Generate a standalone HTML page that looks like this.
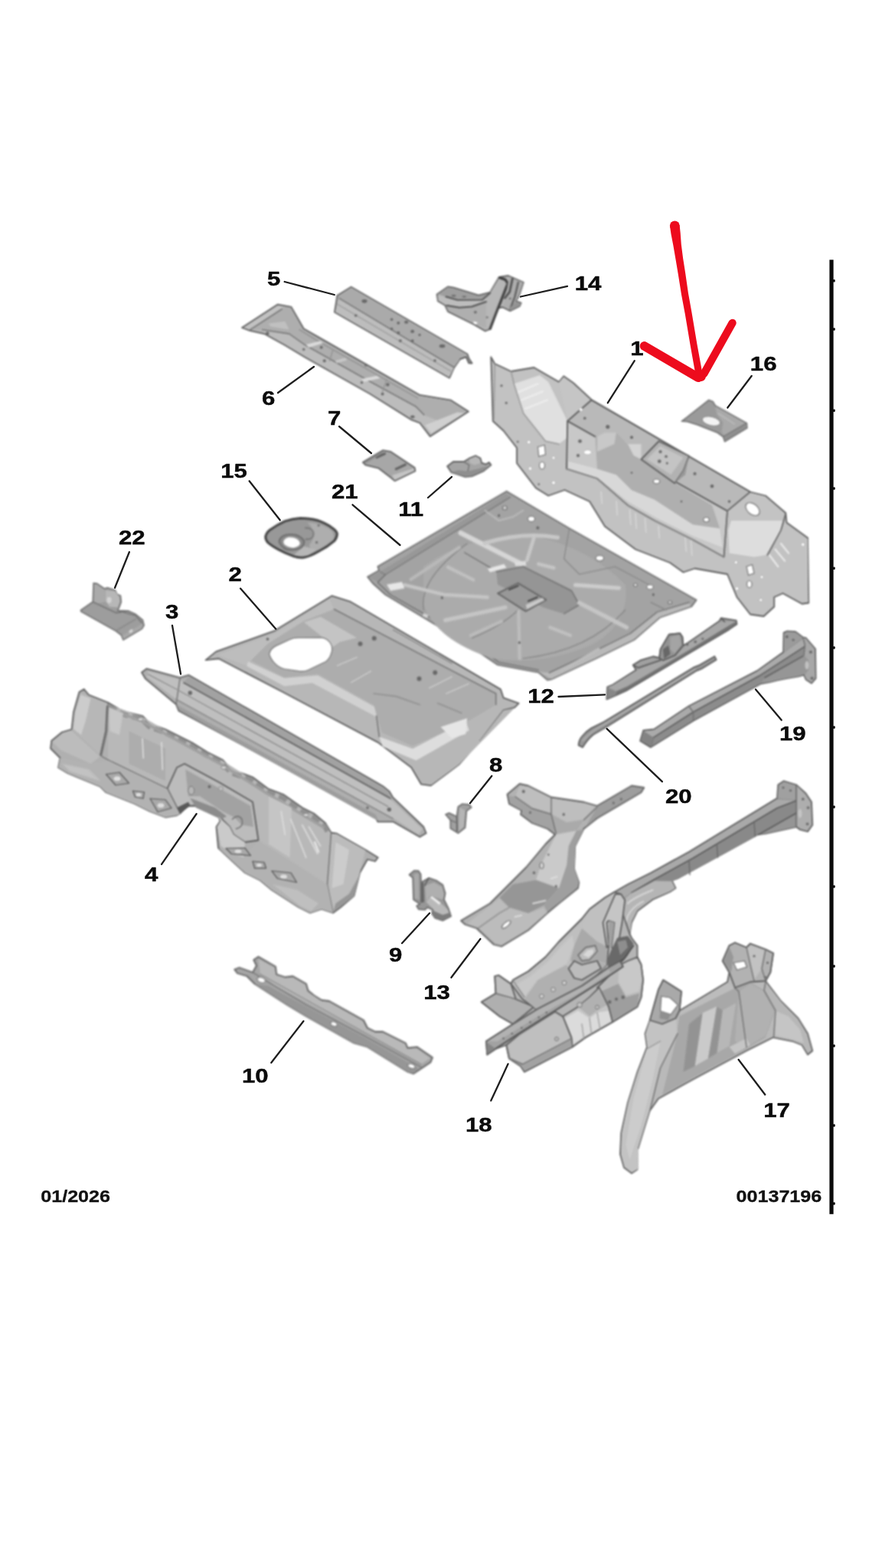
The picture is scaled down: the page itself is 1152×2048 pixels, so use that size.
<!DOCTYPE html>
<html><head><meta charset="utf-8"><title>Parts diagram</title>
<style>
html,body{margin:0;padding:0;background:#fff;}
body{width:1152px;height:2048px;overflow:hidden;font-family:"Liberation Sans",sans-serif;}
svg{display:block;position:absolute;left:0;top:0;}
.p{fill:#c2c2c2;stroke:#747474;stroke-width:1.8;stroke-linejoin:round;vector-effect:non-scaling-stroke;}
.l{fill:#d4d4d4;stroke:none;}
.ll{fill:#e2e2e2;stroke:none;}
.d{fill:#adadad;stroke:none;}
.dd{fill:#9a9a9a;stroke:none;}
.e{fill:none;stroke:#858585;stroke-width:1.4;vector-effect:non-scaling-stroke;stroke-linecap:round;stroke-linejoin:round;}
.ed{fill:none;stroke:#6f6f6f;stroke-width:1.5;vector-effect:non-scaling-stroke;stroke-linecap:round;stroke-linejoin:round;}
.h{fill:none;stroke:#e6e6e6;stroke-width:2.2;vector-effect:non-scaling-stroke;stroke-linecap:round;}
.w{fill:#fff;stroke:#8c8c8c;stroke-width:1.2;vector-effect:non-scaling-stroke;}
.k{fill:#7d7d7d;stroke:none;}
.ld{stroke:#1e1e1e;stroke-width:2.3;stroke-linecap:round;fill:none;}
.t{font-family:"Liberation Sans",sans-serif;font-weight:700;font-size:26px;fill:#0b0b0b;stroke:#0b0b0b;stroke-width:0.45;stroke-linejoin:round;}
.f{font-family:"Liberation Sans",sans-serif;font-weight:700;font-size:21.5px;fill:#111;stroke:#111;stroke-width:0.3;}
</style></head><body>
<svg width="1152" height="2048" viewBox="0 0 1152 2048">
<defs>
<filter id="soft" x="-2%" y="-2%" width="104%" height="104%" color-interpolation-filters="sRGB"><feGaussianBlur stdDeviation="1.0"/><feComponentTransfer><feFuncR type="gamma" exponent="1.25"/><feFuncG type="gamma" exponent="1.25"/><feFuncB type="gamma" exponent="1.25"/></feComponentTransfer></filter>
<filter id="soft2" x="-5%" y="-5%" width="110%" height="110%" color-interpolation-filters="sRGB"><feGaussianBlur stdDeviation="0.6"/></filter>
</defs>
<rect x="0" y="0" width="1152" height="2048" fill="#ffffff"/>
<g filter="url(#soft)">
<!-- 01.svg -->
<g transform="translate(630,440) scale(0.25)">
<path class="p" style="fill:#cdcdcd" d="M45,105 L65,140 L150,180 L270,160 L330,195 L400,235 L425,205 L475,240 L570,328 L1400,810 L1480,830 L1585,920 L1590,970 L1700,1050 L1705,1390 L1670,1395 L1570,1340 L1525,1360 L1525,1410 L1470,1460 L1400,1450 L1330,1360 L1280,1240 L1110,1210 L1050,1230 L980,1180 L800,1110 L680,1020 L640,990 L560,860 L430,800 L345,830 L280,790 L180,660 L180,580 L110,490 L55,440 Z"/>
<!-- left light area -->
<path class="ll" style="fill:#e6e6e6" d="M165,245 L300,200 L345,235 L440,430 L440,530 L400,560 L330,545 L215,400 Z"/>
<path class="l" style="fill:#d0d0d0" d="M400,238 L425,210 L472,244 L566,330 L445,438 Z"/>
<path class="h" d="M185,290 L290,245 M205,330 L315,285 M225,375 L340,330" style="stroke:#f0f0f0;stroke-width:2.5"/>
<polyline class="e" points="150,180 165,245 215,400 330,545 400,560" style="stroke:#a8a8a8"/>
<polyline class="e" points="65,140 60,430" style="stroke:#a5a5a5"/>
<!-- box -->
<path style="fill:#c6c6c6" class="p" d="M445,440 L570,330 L1400,810 L1280,910 Z"/>
<path style="fill:#d2d2d2" class="p" d="M445,440 L1280,910 L1262,1150 L1100,1060 L900,960 L760,880 L600,740 L440,690 Z"/>
<path class="d" style="fill:#bdbdbd" d="M590,520 L700,500 L830,640 L1000,760 L1200,880 L1240,1000 L1100,980 L900,850 L780,800 L700,720 L600,690 Z"/>
<path class="ll" style="fill:#e0e0e0" d="M600,690 L700,722 L780,802 L900,852 L1100,982 L1240,1002 L1255,1100 L1100,1040 L900,940 L760,860 L600,735 L450,685 L450,650 Z"/>
<path class="l" style="fill:#d2d2d2" d="M600,520 L640,500 L700,500 L690,560 L600,600 Z"/>
<path class="ll" style="fill:#dcdcdc" d="M760,560 L830,560 L830,640 L790,620 Z"/>
<!-- bracket on box -->
<path class="p" style="fill:#c0c0c0" d="M830,640 L922,545 L1080,622 L1050,700 L1005,765 Z"/>
<path class="l" style="fill:#cfcfcf" d="M860,640 L930,570 L1050,630 L985,720 Z"/>
<path class="d" style="fill:#a9a9a9" d="M1005,765 L1050,700 L1080,622 L1060,720 Z"/>
<g class="k"><circle cx="930" cy="600" r="8"/><circle cx="960" cy="625" r="7"/><circle cx="925" cy="650" r="9"/><circle cx="965" cy="660" r="6"/></g>
<!-- right end -->
<path class="ll" style="fill:#e4e4e4" d="M1285,1010 L1300,960 L1480,960 L1570,960 L1560,1010 L1480,1140 L1420,1150 L1290,1130 Z"/>
<path class="l" style="fill:#cecece" d="M1282,912 L1400,814 L1478,834 L1580,922 L1570,958 L1300,958 Z"/>
<polyline class="e" points="1280,910 1262,1150"/>
<polyline class="ed" points="1585,925 1560,1010 1490,1140"/>
<ellipse class="w" cx="1412" cy="900" rx="42" ry="27" transform="rotate(40 1412 900)"/>
<path class="h" d="M1560,1080 L1600,1130 M1530,1110 L1580,1170 M1500,1140 L1545,1200" style="stroke:#ededed;stroke-width:2.5"/>
<path class="l" style="fill:#cdcdcd" d="M1640,1060 L1700,1055 L1702,1385 L1660,1380 Z"/>
<path class="w" d="M1380,1200 L1410,1190 L1420,1235 L1390,1245 Z"/>
<ellipse class="w" cx="1395" cy="1292" rx="13" ry="18"/>
<g class="w"><circle cx="1325" cy="1178" r="8"/><circle cx="1330" cy="1315" r="9"/><circle cx="1460" cy="1255" r="8"/><circle cx="1455" cy="1375" r="8"/><circle cx="1675" cy="1085" r="9"/></g>
<!-- left holes -->
<path class="w" d="M290,575 L325,565 L330,615 L295,625 Z"/>
<ellipse class="w" cx="312" cy="672" rx="14" ry="19"/>
<g class="w"><circle cx="243" cy="550" r="9"/><circle cx="250" cy="688" r="9"/><circle cx="372" cy="632" r="8"/><circle cx="372" cy="762" r="9"/><ellipse cx="550" cy="603" rx="20" ry="12"/><circle cx="515" cy="380" r="9"/></g>
<g class="k"><circle cx="100" cy="255" r="6"/><circle cx="125" cy="345" r="6"/><circle cx="185" cy="548" r="5"/><circle cx="295" cy="770" r="5"/><circle cx="510" cy="545" r="9"/><circle cx="500" cy="620" r="8"/><circle cx="535" cy="425" r="7"/><circle cx="655" cy="470" r="10"/><circle cx="780" cy="525" r="8"/><circle cx="1110" cy="715" r="8"/><circle cx="1200" cy="780" r="9"/><circle cx="1290" cy="860" r="7"/><circle cx="780" cy="710" r="5"/><circle cx="1040" cy="860" r="5"/></g>
<ellipse class="w" cx="910" cy="755" rx="17" ry="12"/>
<ellipse class="w" cx="1170" cy="955" rx="15" ry="12"/>
<!-- ribs -->
<path class="h" style="stroke:#dcdcdc;stroke-width:2" d="M620,810 L625,870 M700,860 L705,930 M770,905 L775,980 M800,925 L805,1000 M850,950 L855,1020 M920,990 L925,1050 M1060,1050 L1065,1120 M1090,1065 L1095,1140"/>
<polyline class="e" points="440,690 600,740 760,880 900,960 1100,1060 1262,1150" style="stroke:#9d9d9d"/>
</g>
<!-- 02.svg -->
<g transform="translate(262,760) scale(0.364583)">
<path class="p" style="fill:#c4c4c4" d="M18,280 L55,250 L265,175 L470,50 L535,70 L1075,385 L1085,415 L1140,435 L1125,450 L1085,460 L1005,565 L925,655 L825,730 L790,725 L755,665 L635,575 L295,395 L65,275 Z"/>
<path class="d" style="fill:#bbbbbb" d="M240,222 L370,140 L478,98 L1058,400 L1058,440 L960,498 L760,588 L650,540 L622,442 L420,330 L300,342 L180,282 Z"/>
<path class="l" style="fill:#c9c9c9" d="M60,262 L265,185 L462,62 L478,98 L370,140 L240,222 L180,282 L165,300 Z"/>
<path class="ll" style="fill:#dadada" d="M170,285 L300,345 L420,335 L622,447 L632,485 L400,362 L300,374 L165,302 Z"/>
<path class="ll" style="fill:#e4e4e4" d="M640,555 L760,598 L950,498 L962,532 L772,640 L652,590 Z"/>
<path class="ll" style="fill:#ebebeb" d="M860,520 L955,488 L950,545 L900,560 Z"/>
<path class="l" style="fill:#cfcfcf" d="M370,145 L430,125 L560,200 L500,215 L470,235 L440,200 Z"/>
<path class="l" style="fill:#c4c4c4" d="M1000,570 L1085,460 L1125,452 L925,655 L828,726 L795,720 L770,650 L960,545 Z"/>
<path class="e" d="M478,98 L1058,400 L1058,440"/>
<path class="e" style="stroke:#9e9e9e" d="M690,172 L900,292 M620,400 L700,410 L785,440 M850,435 L935,470"/>
<path class="e" style="stroke:#d0d0d0;stroke-width:2" d="M490,300 L560,270 M540,360 L610,320 M820,380 L900,340 M880,400 L960,365"/>
<path class="e" d="M630,480 L640,555"/>
<path class="w" style="fill:#ffffff" d="M246,258 Q250,240 268,230 L318,207 Q332,200 350,200 L428,199 Q452,200 464,218 Q476,236 468,256 Q462,276 448,286 L385,316 Q372,322 352,320 L300,312 Q282,308 268,294 Q250,276 246,258 Z"/>
<g class="k"><circle cx="572" cy="222" r="8"/><circle cx="622" cy="202" r="8"/><circle cx="783" cy="347" r="8"/><circle cx="840" cy="325" r="8"/><circle cx="240" cy="205" r="5"/></g>
</g>
<!-- 03.svg -->
<g transform="translate(180,860) scale(0.333333)">
<path class="p" style="fill:#bcbcbc" d="M15,55 L35,40 L165,75 L200,65 L960,500 L985,520 L1000,545 L1120,660 L1130,685 L1105,700 L1000,640 L940,640 L930,620 L160,205 L150,180 L30,80 Z"/>
<path class="l" style="fill:#cbcbcb" d="M40,50 L165,84 L1000,560 L1115,668 L1100,690 L1000,625 L150,160 L35,72 Z"/>
<path class="d" style="fill:#b2b2b2" d="M200,70 L958,504 L982,524 L990,545 L180,95 Z"/>
<path class="d" style="fill:#adadad" d="M152,182 L932,612 L940,636 L162,204 Z"/>
<path class="ed" style="stroke:#7a7a7a;stroke-width:1.8" d="M180,95 L990,548"/><path class="e" d="M165,80 L150,180"/>
<path class="e" style="stroke:#999" d="M150,160 L1000,628"/>
<path class="e" style="stroke:#a0a0a0" d="M40,62 L150,120 L980,580"/>
<circle class="k" cx="205" cy="135" r="8"/><circle class="k" cx="985" cy="592" r="8"/><circle class="k" cx="900" cy="585" r="5"/>
</g>
<!-- 04.svg -->
<g transform="translate(56,880) scale(0.25)">
<path class="p" style="fill:#bebebe" d="M190,95 L215,80 L240,110 L340,150 L400,185 L440,200 L520,220 L560,260 L640,290 L720,330 L780,360 L860,410 L940,450 L986,500 L1096,540 L1176,600 L1256,630 L1356,700 L1416,730 L1476,780 L1506,830 L1536,835 L1686,920 L1751,960 L1736,980 L1696,970 L1656,1040 L1626,1160 L1556,1220 L1516,1250 L1456,1230 L1396,1250 L1336,1220 L1196,1130 L1136,1080 L1056,1040 L996,985 L916,910 L906,800 L926,770 L916,740 L796,690 L756,690 L716,730 L700,740 L640,750 L560,720 L480,680 L330,620 L300,590 L130,520 L80,490 L90,440 L40,390 L45,350 L100,305 L150,290 L160,200 Z"/>
<!-- left cap -->
<path class="l" style="fill:#c4c4c4" d="M165,200 L195,100 L340,155 L335,300 L305,430 L155,290 Z"/>
<path class="ll" style="fill:#d6d6d6" d="M170,200 L198,110 L250,130 L225,240 L200,320 L160,288 Z"/>
<path class="l" style="fill:#c8c8c8" d="M48,355 L100,312 L150,296 L300,432 L250,470 L95,400 Z"/>
<!-- main wall -->
<path class="l" style="fill:#c5c5c5" d="M340,160 L520,225 L700,330 L940,455 L1176,605 L1476,785 L1506,835 L1486,1100 L1126,870 L1100,700 L1060,650 L740,470 L700,490 L650,600 L340,450 Z"/>
<path d="M345,158 L400,188 L440,203 L520,224 L560,263 L640,293 L720,333 L780,363 L860,413 L940,453 L986,503 L1096,543 L1176,603 L1256,633 L1356,703 L1416,733 L1476,783 L1500,826" fill="none" stroke="#a2a2a2" stroke-width="26" stroke-dasharray="46 22" stroke-linecap="butt" transform="translate(-4,14)"/>
<path d="M345,158 L520,224 L940,453 L1176,603 L1476,783" fill="none" stroke="#b0b0b0" stroke-width="14" transform="translate(-6,22)"/>
<path class="ll" style="fill:#d2d2d2" d="M345,175 L420,205 L400,320 L350,300 Z"/>
<path class="ll" style="fill:#d0d0d0" d="M1180,640 L1300,700 L1290,960 L1180,890 Z"/>
<path class="l" style="fill:#bbbbbb" d="M450,300 L640,390 L640,560 L450,470 Z"/>
<path class="h" style="stroke:#e2e2e2;stroke-width:1.8" d="M1245,720 L1265,840 M1295,760 L1375,960 M1355,790 L1435,940 M1390,800 L1450,900 M620,360 L625,500 M520,340 L525,440"/>
<path class="h" style="stroke:#ececec;stroke-width:2.4" d="M1420,880 L1440,930 M1180,920 L1186,935 M350,455 L358,460"/>
<path class="e" d="M340,155 L335,300 L305,430 L340,450 L650,600"/>
<path class="ed" style="stroke:#777" d="M335,170 L328,300 L300,425"/>
<!-- tunnel bridge -->
<path class="p" style="fill:#c8c8c8" d="M650,600 L700,490 L740,470 L926,570 L1096,670 L1126,870 L1056,880 L996,840 L976,800 L916,740 L796,690 L756,690 L716,730 Z"/>
<path class="d" style="fill:#b2b2b2" d="M745,500 L1085,690 L1100,800 L1040,790 L1000,750 L940,720 L820,640 L760,640 Z"/>
<path class="d" style="fill:#9e9e9e" d="M770,650 L900,700 L960,745 L930,760 L800,700 Z"/>
<path class="l" style="fill:#d4d4d4" d="M916,745 L976,800 L996,840 L1056,880 L1050,960 L990,940 L930,900 L910,800 L928,770 Z"/>
<path class="e" d="M990,760 q30,-30 50,0 q10,40 -30,50"/>
<ellipse cx="775" cy="610" rx="16" ry="22" fill="#c4c4c4" stroke="#8a8a8a" stroke-width="4"/>
<circle cx="870" cy="590" r="8" class="k"/><circle cx="930" cy="600" r="12" fill="#c9c9c9" stroke="#999" stroke-width="3"/>
<path class="dd" style="fill:#6d6d6d" d="M700,700 L760,670 L770,690 L716,730 Z"/>
<!-- right cap -->
<path class="l" style="fill:#c8c8c8" d="M1506,835 L1536,838 L1686,922 L1656,1040 L1626,1160 L1516,1245 L1486,1100 Z"/>
<path class="ll" style="fill:#d6d6d6" d="M1530,880 L1600,920 L1570,1100 L1510,1120 Z"/>
<path class="d" style="fill:#a8a8a8" d="M1516,1248 L1626,1162 L1650,1060 L1600,1150 L1530,1200 Z"/>
<path class="e" d="M1506,835 L1486,1100 L1516,1248"/>
<!-- floor flanges -->
<path class="d" style="fill:#c0c0c0" d="M90,440 L250,470 L340,452 L650,602 L716,732 L700,740 L640,750 L560,720 L480,680 L330,620 L300,590 L130,520 L80,490 Z"/>
<path class="d" style="fill:#c0c0c0" d="M916,910 L1050,962 L1126,872 L1486,1102 L1516,1250 L1456,1230 L1396,1250 L1336,1220 L1196,1130 L1136,1080 L1056,1040 L996,985 Z"/>
<path class="l" style="fill:#cdcdcd" d="M100,470 L240,500 L300,560 L140,510 Z"/>
<path class="l" style="fill:#cbcbcb" d="M1200,1100 L1330,1130 L1440,1200 L1400,1240 L1340,1210 Z"/>
<!-- bolt plates -->
<g fill="#b8b8b8" stroke="#6e6e6e" stroke-width="5" stroke-linejoin="round">
<path d="M330,525 L400,515 L450,572 L380,582 Z"/><path d="M470,612 L530,618 L524,652 L482,644 Z"/><path d="M560,652 L640,658 L672,702 L600,722 Z"/>
<path d="M956,912 L1056,910 L1086,950 L986,942 Z"/><path d="M1096,980 L1156,985 L1166,1016 L1106,1016 Z"/><path d="M1196,1030 L1296,1040 L1326,1090 L1226,1070 Z"/>
</g>
<g fill="#e6e6e6"><ellipse cx="388" cy="548" rx="18" ry="12"/><ellipse cx="500" cy="632" rx="14" ry="10"/><ellipse cx="616" cy="688" rx="18" ry="12"/><ellipse cx="1020" cy="928" rx="18" ry="10"/><ellipse cx="1130" cy="1000" rx="14" ry="9"/><ellipse cx="1258" cy="1060" rx="18" ry="11"/></g>
<ellipse cx="510" cy="238" rx="14" ry="9" fill="#ddd" stroke="#8c8c8c" stroke-width="3"/>
<ellipse cx="945" cy="490" rx="14" ry="9" fill="#ddd" stroke="#8c8c8c" stroke-width="3"/>
<ellipse cx="1375" cy="738" rx="14" ry="9" fill="#ddd" stroke="#8c8c8c" stroke-width="3"/>
</g>
<!-- 05.svg -->
<g transform="translate(430,360) scale(0.173611)">
<polygon class="p" points="60,150 165,85 1040,590 1052,625 1075,660 1050,658 1030,612 985,628 940,692 905,770 40,275"/>
<polygon class="d" points="68,152 165,90 1036,592 985,626 940,688 80,178" style="fill:#b9b9b9"/>
<polygon class="l" points="78,182 938,694 903,764 44,272" style="fill:#c9c9c9"/>
<polyline class="e" points="75,170 940,690"/>
<polyline class="e" points="62,215 925,725" style="stroke:#b0b0b0"/>
<polyline class="ed" points="985,628 1030,612 1050,658"/>
<g class="k"><ellipse cx="265" cy="192" rx="20" ry="14"/><ellipse cx="200" cy="300" rx="11" ry="9"/><circle cx="470" cy="330" r="10"/><circle cx="520" cy="356" r="11"/><ellipse cx="580" cy="350" rx="15" ry="12"/><circle cx="470" cy="400" r="10"/><circle cx="520" cy="430" r="11"/><ellipse cx="626" cy="420" rx="14" ry="12"/><circle cx="680" cy="446" r="9"/><circle cx="535" cy="490" r="11"/><circle cx="626" cy="490" r="11"/><ellipse cx="850" cy="530" rx="22" ry="13"/><circle cx="795" cy="640" r="10"/></g>
</g>
<!-- 06.svg -->
<g transform="translate(310,390) scale(0.270833)">
<polygon class="p" points="22,140 195,28 260,40 320,145 390,185 600,305 880,465 1030,490 1115,545 930,665 880,600 840,585 640,460 330,285 230,225 130,170 60,155"/>
<polygon class="l" points="30,140 195,34 225,40 62,150" style="fill:#cdcdcd"/>
<polygon class="d" points="225,42 258,44 316,148 388,190 875,468 1026,494 1100,542 1000,600 900,560 860,520 640,400 330,225 250,170 120,150 70,150" style="fill:#bcbcbc"/>
<polygon class="l" points="120,152 250,172 330,228 640,402 860,522 900,562 1000,602 932,655 884,596 842,580 640,456 330,281 230,221 132,166" style="fill:#c8c8c8"/>
<polyline class="e" points="62,150 215,50"/>
<polyline class="e" points="120,150 250,170 330,226 640,400 860,520 900,560"/>
<polyline class="e" points="300,150 380,200 870,480" style="stroke:#a2a2a2"/>
<path class="ll" d="M330,222 L400,204 L415,214 L345,236 Z"/>
<path class="ll" d="M598,388 L672,372 L690,384 L612,402 Z"/>
<path class="ll" d="M470,300 L520,285 L530,296 L480,312 Z" style="fill:#d2d2d2"/>
<path class="ll" d="M905,610 L1060,548 L1095,552 L935,650 Z" style="fill:#d9d9d9"/>
<path class="ll" d="M150,120 L230,110 L250,150 L160,135 Z" style="fill:#cccccc"/>
<polyline class="e" points="460,250 445,300" style="stroke:#a5a5a5"/>
<polyline class="e" points="720,390 700,450" style="stroke:#a5a5a5"/>
<g class="k"><circle cx="145" cy="168" r="8"/><circle cx="405" cy="235" r="7"/><circle cx="320" cy="245" r="6"/><circle cx="420" cy="300" r="7"/><circle cx="620" cy="320" r="7"/><circle cx="725" cy="415" r="8"/><circle cx="600" cy="405" r="6"/><circle cx="700" cy="460" r="7"/><ellipse cx="845" cy="570" rx="10" ry="7"/></g>
</g>
<!-- 07.svg -->
<g transform="translate(460,570) scale(0.173611)">
<polygon class="p" points="80,195 230,105 290,115 470,235 475,260 320,335 290,310 200,240 100,215" style="fill:#b6b6b6"/>
<polygon class="l" points="300,292 462,240 470,258 320,330" style="fill:#cfcfcf"/>
<polyline class="ed" points="185,158 245,130" style="stroke-width:3;stroke:#777"/>
<polyline class="ed" points="330,246 400,212" style="stroke-width:3;stroke:#777"/>
<polyline class="e" points="100,200 230,120" style="stroke:#9a9a9a"/>
</g>
<!-- 08.svg -->
<g transform="translate(520,1020) scale(0.182292)">
<path class="p" style="fill:#b0b0b0;stroke:#858585" d="M340,240 L365,230 L420,255 L430,185 L460,165 L510,170 L525,190 L490,215 L480,335 L430,375 L375,340 L375,280 Z"/>
<path class="l" style="fill:#c2c2c2" d="M440,190 L480,210 L470,330 L435,360 Z"/>
<path class="ed" d="M420,258 L422,360" style="stroke:#6e6e6e"/>
<path class="e" d="M375,282 L420,300"/>
</g>
<!-- 09.svg -->
<g transform="translate(520,1125) scale(0.0833333)">
<path class="p" style="fill:#a8a8a8;stroke:#858585" d="M175,210 L250,145 L320,150 L355,200 L360,330 L480,260 L600,300 L700,370 L740,500 L720,600 L790,740 L830,860 L700,930 L580,890 L530,820 L540,760 L460,720 L420,760 L320,750 L290,700 L340,670 L240,600 L230,260 Z"/>
<path class="l" style="fill:#b8b8b8" d="M250,200 L320,190 L330,600 L260,580 Z"/>
<path class="dd" style="fill:#7c7c7c" d="M350,340 L400,330 L410,640 L350,650 Z"/>
<path class="l" style="fill:#bdbdbd" d="M420,380 L560,330 L690,400 L720,520 L700,600 L500,540 L440,640 Z"/>
<path class="l" style="fill:#c6c6c6" d="M440,640 L500,560 L700,680 L780,760 L810,850 L700,910 L590,870 L560,760 Z" />
<path d="M500,565 L530,545 L670,650 L645,680 Z" fill="#f2f2f2"/>
<path class="d" style="fill:#909090" d="M540,770 L700,840 L820,800 L828,858 L700,926 L584,886 L534,820 Z"/>
<path class="ed" d="M480,262 L440,330 L420,380"/>
</g>
<!-- 10.svg -->
<g transform="translate(300,1240) scale(0.25)">
<path class="p" style="fill:#b5b5b5" d="M25,105 L50,95 L120,120 L140,85 L125,55 L150,38 L240,90 L245,130 L290,145 L330,140 L400,180 L410,215 L440,240 L480,265 L520,270 L700,370 L720,410 L760,430 L800,430 L920,490 L930,515 L980,510 L1060,565 L1050,590 L960,650 L930,640 L720,510 L650,490 L400,350 L300,290 L130,180 L90,140 L40,125 Z"/>
<path class="l" style="fill:#c6c6c6" d="M150,50 L235,95 L240,135 L290,150 L330,146 L395,184 L405,220 L480,270 L520,276 L695,375 L715,415 L760,436 L800,436 L915,494 L925,520 L975,516 L1048,568 L1000,600 L240,190 L160,130 Z"/>
<path class="d" style="fill:#a7a7a7" d="M130,180 L300,290 L400,350 L650,490 L720,510 L930,640 L960,648 L990,625 L700,460 L400,300 L200,190 Z"/>
<path class="e" d="M120,120 L200,170 L400,290 L700,450 L1000,615"/>
<path class="e" style="stroke:#9c9c9c" d="M160,130 L1000,600"/>
<ellipse class="w" cx="165" cy="160" rx="22" ry="14" transform="rotate(20 165 160)"/>
<ellipse class="w" cx="545" cy="390" rx="18" ry="12" transform="rotate(20 545 390)"/>
<ellipse class="w" cx="950" cy="610" rx="20" ry="12" transform="rotate(20 950 610)"/>
</g>
<!-- 11.svg -->
<g transform="translate(460,570) scale(0.173611)">
<path class="p" d="M715,225 L760,190 L840,190 L880,165 L930,145 L965,165 L975,200 L1005,210 L1030,195 L1045,215 L990,260 L900,300 L850,305 L790,285 L745,270 Z" style="fill:#b4b4b4"/>
<path class="d" d="M745,268 L790,283 L850,303 L900,298 L990,258 L1040,218 L960,240 L870,262 L800,255 Z" style="fill:#a0a0a0"/>
<path class="l" d="M880,170 L930,150 L960,168 L968,200 L920,215 L885,200 Z" style="fill:#c4c4c4"/>
<polyline class="e" points="840,192 880,215 870,260"/>
</g>
<!-- 12.svg -->
<g transform="translate(786,800) scale(0.159722)">
<path class="p" style="fill:#ababab" d="M40,710 L45,610 L90,590 L280,470 L255,430 L320,390 L420,360 L470,370 L480,300 L550,180 L640,170 L660,200 L665,270 L700,250 L960,70 L975,45 L1100,65 L1105,95 L1040,140 L720,330 L200,640 L110,680 Z"/>
<path class="l" style="fill:#b6b6b6" d="M50,612 L92,594 L285,474 L480,380 L600,350 L700,256 L962,76 L1090,72 L1030,110 L720,300 L210,600 L120,640 Z"/>
<path class="dd" style="fill:#868686" d="M120,645 L210,605 L720,305 L1030,115 L1098,75 L1102,93 L1040,138 L720,328 L200,638 L112,676 Z"/>
<path class="d" style="fill:#9a9a9a" d="M42,706 L47,614 L118,648 L110,678 Z"/>
<path class="p" style="fill:#a5a5a5;stroke:#747474" d="M480,300 L550,180 L640,170 L660,200 L665,270 L600,350 L500,392 L470,372 Z"/>
<path class="l" style="fill:#b4b4b4" d="M560,200 L635,185 L650,265 L595,335 L560,300 Z"/>
<path class="dd" style="fill:#7c7c7c" d="M500,300 L545,270 L560,340 L510,380 Z"/>
<path class="p" style="fill:#b0b0b0" d="M255,430 L320,390 L420,360 L470,372 L480,390 L300,452 Z"/>
<g class="k"><circle cx="700" cy="262" r="10"/><circle cx="765" cy="240" r="11"/><circle cx="825" cy="215" r="9"/></g>
<path class="ed" style="stroke:#6a6a6a" d="M975,48 L1005,75"/>
</g>
<!-- 13.svg -->
<g transform="translate(590,1010) scale(0.25)">
<path class="p" style="fill:#c0c0c0" d="M290,110 L355,55 L400,65 L520,125 L690,150 L760,170 L940,65 L1005,75 L990,100 L760,235 L690,290 L645,380 L640,500 L665,570 L660,600 L560,680 L500,730 L400,820 L260,905 L220,895 L130,810 L70,790 L48,770 L200,680 L290,590 L390,490 L490,370 L540,320 L500,290 L420,260 L360,215 L365,195 L300,160 Z"/>
<path class="l" style="fill:#cacaca" d="M355,62 L400,70 L520,130 L690,156 L750,175 L690,240 L600,255 L520,212 L420,182 L332,122 Z"/>
<path class="d" style="fill:#b2b2b2" d="M296,116 L332,124 L420,186 L520,216 L545,312 L500,286 L420,256 L365,212 L370,196 L306,158 Z"/>
<path class="d" style="fill:#adadad" d="M760,176 L938,72 L998,80 L985,98 L760,230 L700,280 Z"/>
<path class="l" style="fill:#b9b9b9" d="M520,216 L600,258 L690,244 L650,300 L545,315 Z"/>
<path class="d" style="fill:#a7a7a7" d="M320,580 L440,558 L560,600 L480,690 L400,730 L300,700 L250,650 Z"/>
<path class="l" style="fill:#c8c8c8" d="M250,652 L300,702 L400,732 L480,702 L500,728 L400,815 L262,898 L226,888 L140,808 L80,786 L200,690 Z"/>
<path class="d" style="fill:#afafaf" d="M690,292 L647,380 L642,500 L665,570 L657,598 L560,678 L500,722 L482,690 L560,602 L602,480 L612,380 L652,302 Z"/>
<path class="ll" style="fill:#d4d4d4" d="M545,320 L650,300 L610,380 L600,480 L560,600 L440,556 L470,470 Z"/>
<path class="h" style="stroke:#e4e4e4" d="M520,550 L550,540 M425,680 L490,665 M330,750 L365,742"/>
<path class="e" d="M520,130 L520,212 M332,122 L420,184 L520,214 L545,314 M690,244 L760,176"/>
<path class="e" style="stroke:#9a9a9a" d="M140,808 L250,730 L300,702"/>
<ellipse class="w" cx="285" cy="790" rx="28" ry="11" transform="rotate(-40 285 790)"/>
<ellipse class="w" cx="470" cy="482" rx="10" ry="16" style="fill:#e0e0e0"/>
<g class="k"><circle cx="375" cy="95" r="8"/><circle cx="410" cy="205" r="6"/><circle cx="585" cy="215" r="7"/><circle cx="430" cy="520" r="7"/><circle cx="545" cy="590" r="6"/><circle cx="505" cy="425" r="5"/><circle cx="845" cy="155" r="6"/><circle cx="885" cy="135" r="6"/></g>
</g>
<!-- 14.svg -->
<g transform="translate(560,350) scale(0.125)">
<polygon class="p" points="85,275 200,195 260,205 520,285 640,255 735,95 830,80 990,150 940,300 910,345 965,365 950,400 850,450 770,410 720,420 700,480 640,640 590,660 470,590 200,455 170,390 95,345"/>
<polygon class="d" points="100,272 200,202 258,212 520,292 636,264 560,330 300,332 180,300" style="fill:#aeaeae"/>
<polygon class="l" points="95,282 180,306 300,338 560,336 610,310 600,350 450,400 320,410 200,388 170,384 98,340" style="fill:#c9c9c9"/>
<polygon class="l" points="195,395 320,416 450,406 600,356 600,620 470,582 205,450 178,392" style="fill:#bdbdbd"/>
<polygon class="l" points="640,262 738,100 800,125 822,165 700,478 642,632 604,616 602,350" style="fill:#c4c4c4"/>
<polyline class="ed" points="740,100 800,122 826,162 702,478 642,636" style="stroke:#4e4e4e;stroke-width:3"/>
<polygon class="l" points="835,88 985,152 936,298 905,345 850,440 775,404 802,300 826,165" style="fill:#bcbcbc"/>
<polyline class="ed" style="stroke:#5c5c5c;stroke-width:2.4" points="875,112 845,250 795,315"/>
<polyline class="ed" style="stroke:#666;stroke-width:2" points="935,150 900,300 850,430"/>
<polygon class="d" points="910,348 962,368 948,398 852,446 846,420" style="fill:#a5a5a5"/>
<polyline class="ed" style="stroke:#6a6a6a;stroke-width:2" points="180,300 300,335 560,333 640,262"/>
<polyline class="ed" style="stroke:#6a6a6a;stroke-width:2" points="190,392 320,414 450,404 600,352"/>
<polygon points="470,556 512,570 492,592 468,580" fill="#fff"/>
<g class="k"><ellipse cx="260" cy="290" rx="22" ry="10"/><ellipse cx="370" cy="300" rx="20" ry="9"/><circle cx="487" cy="462" r="14"/><circle cx="610" cy="515" r="10"/><circle cx="850" cy="320" r="10"/></g>
</g>
<!-- 15.svg -->
<g transform="translate(330,660) scale(0.111111)">
<path d="M150,370 Q160,320 200,290 Q290,225 380,185 Q470,155 560,150 Q670,150 760,175 Q860,210 930,260 Q990,300 995,335 Q990,385 960,420 Q880,490 780,540 Q680,600 600,615 Q540,620 480,600 Q380,565 300,520 Q220,475 180,440 Q150,410 150,370 Z" fill="#a9a9a9" stroke="#4c4c4c" stroke-width="24" stroke-linejoin="round"/>
<path d="M640,200 Q780,200 900,270 Q975,320 950,400 Q880,470 780,520 Q700,540 660,470 Q720,400 720,330 Q700,250 640,200 Z" fill="#bcbcbc"/>
<path d="M600,480 L760,520 L650,590 L560,600 L480,585 Z" fill="#c4c4c4"/>
<path d="M310,425 Q320,370 380,350 Q440,335 500,345 Q580,370 605,420 Q610,470 560,505 Q480,535 400,520 Q330,490 310,425 Z" fill="#9c9c9c" stroke="#6a6a6a" stroke-width="10"/>
<path d="M360,425 Q375,385 425,375 Q480,372 520,395 Q565,425 555,460 Q530,495 470,500 Q420,495 385,470 Q358,450 360,425 Z" fill="#ffffff"/>
<path d="M618,265 Q690,262 712,310 Q725,360 690,388 Q660,402 622,400" fill="none" stroke="#6e6e6e" stroke-width="9" stroke-linecap="round"/>
<circle cx="775" cy="236" r="11" fill="#6a6a6a"/><circle cx="752" cy="436" r="12" fill="#6a6a6a"/>
</g>
<!-- 16.svg -->
<g transform="translate(880,510) scale(0.1041667)">
<polygon class="p" style="fill:#ababab;stroke:#8a8a8a" points="100,385 160,340 440,120 490,140 520,190 915,410 920,470 640,640 620,580 550,530 300,430 170,390"/>
<polygon class="l" style="fill:#b8b8b8" points="520,200 905,415 640,575 600,520 620,400 540,300"/>
<polygon class="d" style="fill:#a0a0a0" points="640,582 912,422 916,466 642,632"/>
<polyline class="e" points="560,290 760,420" style="stroke:#c6c6c6;stroke-width:2"/>
<polyline class="e" points="620,580 905,415" style="stroke:#8a8a8a"/>
<ellipse cx="470" cy="385" rx="115" ry="55" transform="rotate(14 470 385)" fill="#f6f6f6" stroke="#909090" stroke-width="8"/>
</g>
<!-- 17.svg -->
<g transform="translate(800,1220) scale(0.25)">
<path class="p" style="fill:#c6c6c6" d="M575,140 L610,60 L640,45 L700,70 L720,50 L800,80 L840,100 L825,200 L800,245 L880,350 L970,440 L1020,520 L1045,610 L1020,630 L990,580 L940,560 L840,540 L800,560 L700,610 L420,760 L240,860 L190,930 L150,1020 L130,1120 L130,1230 L100,1250 L60,1220 L40,1150 L45,1040 L80,880 L130,720 L180,590 L170,520 L195,450 L240,290 L265,240 L360,300 L350,400 L600,250 L610,200 Z"/>
<!-- inner panel -->
<path class="d" style="fill:#b7b7b7" d="M350,425 L640,282 L720,252 L790,292 L850,400 L800,540 L700,600 L420,750 L260,840 L330,560 Z"/>
<path class="l" style="fill:#c8c8c8" d="M350,405 L600,255 L640,282 L350,428 Z"/>
<path class="ll" style="fill:#d4d4d4" d="M470,412 L545,378 L500,650 L430,690 Z"/>
<path class="l" style="fill:#c4c4c4" d="M575,398 L645,360 L610,585 L545,622 Z"/>
<path class="d" style="fill:#a5a5a5" d="M545,380 L575,398 L545,622 L500,650 Z"/>
<path class="d" style="fill:#a5a5a5" d="M400,470 L470,414 L430,690 L370,720 Z"/>
<path class="l" style="fill:#bfbfbf" d="M660,300 L720,260 L785,296 L845,400 L800,530 L700,590 L640,560 Z"/>
<path class="ll" style="fill:#d0d0d0" d="M610,590 L700,545 L720,580 L640,625 Z"/>
<path class="e" d="M640,282 L660,300 L700,590"/>
<!-- left leg -->
<path class="l" style="fill:#cecece" d="M195,452 L330,432 L340,520 L250,700 L195,925 L135,1120 L132,1228 L100,1246 L62,1216 L44,1150 L48,1040 L82,880 L132,722 L182,592 L172,522 Z"/>
<path class="ll" style="fill:#d6d6d6" d="M180,600 L250,560 L210,760 L150,1000 L90,1180 L70,1100 L110,860 Z"/>
<path class="e" d="M340,520 L250,700 L195,925 L135,1120"/>
<path class="e" style="stroke:#a6a6a6" d="M250,560 L180,600"/>
<!-- left bracket -->
<path class="p" style="fill:#b8b8b8" d="M195,450 L240,290 L265,240 L360,300 L350,400 L330,440 L260,470 Z"/>
<path d="M255,325 L300,332 L342,370 L305,420 L250,402 Z" fill="#ffffff" stroke="#8a8a8a" stroke-width="5"/>
<path class="d" style="fill:#a2a2a2" d="M250,402 L305,420 L290,450 L245,440 Z"/>
<!-- right arm -->
<path class="l" style="fill:#c4c4c4" d="M800,250 L880,352 L968,442 L1016,522 L1040,606 L1020,624 L992,578 L942,558 L842,538 L852,400 L792,294 Z"/>
<path class="ll" style="fill:#d0d0d0" d="M850,400 L920,430 L980,500 L1000,570 L945,552 L850,530 Z"/>
<path class="e" d="M800,250 L792,294 L852,400 L842,538"/>
<!-- top bracket -->
<path class="p" style="fill:#c0c0c0" d="M575,140 L610,60 L640,45 L700,70 L720,50 L800,80 L840,100 L825,200 L800,245 L720,250 L640,280 L610,200 Z"/>
<path class="d" style="fill:#a9a9a9" d="M580,140 L612,70 L632,120 L620,200 Z"/>
<path class="l" style="fill:#cdcdcd" d="M700,75 L720,58 L796,86 L780,180 L740,240 L720,160 Z"/>
<path d="M632,150 L690,140 L702,172 L650,188 Z" fill="#ffffff" stroke="#8a8a8a" stroke-width="5"/>
<path class="e" d="M700,70 L720,160 L740,245 M800,80 L780,180 L800,245"/>
<g class="k"><circle cx="740" cy="115" r="6"/><circle cx="810" cy="150" r="6"/><circle cx="800" cy="225" r="5"/></g>
</g>
<!-- 18.svg -->
<g transform="translate(620,1130) scale(0.25)">
<!-- upper rail -->
<path class="p" style="fill:#a4a4a4" d="M730,140 L800,100 L920,40 L1120,-70 L1580,-350 L1585,-420 L1615,-440 L1680,-420 L1730,-375 L1760,-330 L1765,-210 L1740,-175 L1700,-185 L1680,-200 L1520,-165 L1480,-160 L1280,-50 L1060,70 L1030,80 L1050,120 L1020,140 L930,180 L850,240 L820,300 L810,360 L790,380 L740,300 Z"/>
<path class="l" style="fill:#b8b8b8" d="M735,142 L800,105 L920,46 L1120,-64 L1580,-344 L1676,-338 L1580,-300 L1140,-40 L940,70 L820,140 L770,180 Z"/>
<path class="d" style="fill:#9c9c9c" d="M820,146 L940,76 L1140,-34 L1580,-296 L1678,-334 L1678,-272 L1480,-158 L1280,-48 L1060,72 L930,130 Z"/>
<path class="l" style="fill:#b0b0b0" d="M1588,-418 L1615,-436 L1678,-417 L1678,-342 L1582,-350 Z"/>
<path class="l" style="fill:#bcbcbc" d="M1682,-416 L1727,-372 L1756,-328 L1761,-212 L1738,-180 L1702,-190 L1682,-204 Z"/>
<path class="d" style="fill:#a6a6a6" d="M1480,-160 L1520,-165 L1680,-200 L1680,-270 Z"/>
<ellipse cx="1700" cy="-270" rx="10" ry="24" fill="#d0d0d0"/>
<path class="ed" style="stroke:#707070" d="M820,144 L940,74 L1140,-36 L1580,-298 L1678,-336 M1480,-158 L1680,-272"/>
<path class="e" style="stroke:#7c7c7c" d="M1120,-26 L1124,50 M1265,-110 L1270,-40 M1460,-225 L1465,-150 M1680,-418 L1680,-200"/>
<path class="l" style="fill:#c2c2c2" d="M770,185 L820,145 L940,82 L1030,84 L1048,120 L1020,138 L930,176 L850,236 L820,296 L812,356 L790,376 L745,300 Z"/>
<path class="h" style="stroke:#dadada;stroke-width:2.5" d="M800,200 Q830,170 930,130 M790,300 Q800,230 880,190"/>
<g class="k"><circle cx="1715" cy="-345" r="7"/><circle cx="1742" cy="-300" r="7"/><circle cx="1738" cy="-215" r="7"/><circle cx="1612" cy="-405" r="6"/><circle cx="1650" cy="-390" r="6"/></g>
<!-- base silhouette -->
<path class="p" style="fill:#c2c2c2" d="M35,715 L110,670 L105,580 L125,575 L190,620 L200,600 L280,555 L370,480 L440,400 L500,340 L560,280 L600,230 L680,170 L730,140 L790,300 L810,360 L820,380 L850,420 L850,480 L870,520 L880,600 L870,690 L850,740 L720,820 L580,900 L510,950 L260,1080 L240,1050 L180,1010 L165,940 L110,960 L65,990 L60,920 L200,830 L130,790 Z"/>
<!-- left bracket -->
<path class="p" style="fill:#bdbdbd" d="M35,715 L110,670 L105,580 L125,575 L190,620 L215,700 L310,740 L250,790 L200,830 L130,790 Z"/>
<path class="l" style="fill:#cacaca" d="M112,585 L125,582 L185,625 L210,700 L180,700 L115,668 Z"/>
<path class="e" d="M110,670 L215,700"/>
<!-- main body -->
<path class="p" style="fill:#cbcbcb" d="M190,620 L200,600 L280,555 L370,480 L440,400 L500,340 L560,280 L600,230 L680,170 L730,140 L760,150 L780,180 L740,300 L700,420 L690,520 L640,570 L560,640 L440,720 L330,760 L250,700 Z"/>
<path class="ll" style="fill:#d2d2d2" d="M215,625 L290,580 L380,505 L450,425 L510,365 L520,420 L480,520 L330,600 L260,690 Z"/>
<path class="l" style="fill:#cccccc" d="M600,240 L680,180 L730,148 L752,158 L700,300 L690,420 L640,400 L560,320 Z"/>
<path class="d" style="fill:#bebebe" d="M330,600 L480,520 L500,560 L640,500 L690,520 L640,570 L560,640 L440,720 L330,760 L260,700 Z"/>
<path class="d" style="fill:#b8b8b8" d="M520,420 L560,330 L640,400 L690,425 L690,515 L640,500 L560,520 L500,500 Z"/>
<path class="p" style="fill:#c9c9c9;stroke:#8a8a8a" d="M540,470 L580,430 L630,420 L640,450 L600,495 L560,500 Z"/>
<path class="ll" style="fill:#e0e0e0" d="M565,470 L590,445 L620,440 L620,460 L595,482 Z"/>
<path class="p" style="fill:#c8c8c8" d="M490,540 L520,500 L560,520 L640,500 L660,540 L560,600 L520,590 Z"/>
<path class="e" style="stroke:#999" d="M200,600 L215,625 L260,690"/>
<g fill="#dcdcdc" stroke="#8a8a8a" stroke-width="4"><circle cx="350" cy="685" r="11"/><circle cx="410" cy="650" r="11"/><circle cx="468" cy="615" r="11"/></g>
<!-- pillar curved strips -->
<path class="p" style="fill:#d0d0d0" d="M735,150 L765,152 L785,182 L770,300 L745,440 L715,430 L730,300 L700,290 L690,300 L700,420 L690,430 L670,300 Z"/>
<path class="d" style="fill:#b0b0b0" d="M700,290 L730,300 L715,430 L700,420 Z"/>
<!-- dark mechanism -->
<path class="dd" style="fill:#7e7e7e" d="M715,440 L745,380 L800,370 L830,410 L800,470 L760,520 L700,540 L690,500 Z"/>
<path class="d" style="fill:#a0a0a0" d="M745,400 L790,390 L800,430 L760,470 Z"/>
<path class="ed" style="stroke:#5e5e5e" d="M700,540 L780,490 L830,420"/>
<!-- right box -->
<path class="p" style="fill:#c6c6c6" d="M700,740 L640,640 L700,580 L760,520 L800,500 L850,480 L870,520 L880,600 L870,690 L850,740 L720,820 Z"/>
<path class="ll" style="fill:#d2d2d2" d="M755,530 L800,505 L848,488 L866,522 L874,600 L860,660 L790,680 L750,610 Z"/>
<path class="d" style="fill:#aeaeae" d="M660,660 L750,620 L790,690 L860,670 L850,735 L722,812 L700,740 Z"/>
<g class="k"><circle cx="705" cy="715" r="9"/><circle cx="740" cy="700" r="8"/><circle cx="775" cy="690" r="9"/></g>
<!-- U channel rail -->
<path class="p" style="fill:#b2b2b2" d="M60,920 L200,830 L330,750 L560,630 L690,540 L760,500 L775,530 L640,620 L420,760 L230,880 L110,960 L65,990 Z"/>
<path class="l" style="fill:#c0c0c0" d="M70,920 L200,838 L330,758 L560,638 L700,545 L710,560 L560,660 L330,790 L120,920 Z"/>
<path class="d" style="fill:#989898" d="M62,925 L108,958 L66,986 Z"/>
<path class="ed" style="stroke:#6d6d6d" d="M110,958 L230,880 L420,760 L640,620 L775,530"/>
<g class="k"><circle cx="150" cy="905" r="5"/><circle cx="195" cy="880" r="5"/><circle cx="245" cy="850" r="5"/><circle cx="290" cy="820" r="5"/><circle cx="335" cy="795" r="5"/><circle cx="375" cy="770" r="5"/></g>
<!-- light block -->
<path class="p" style="fill:#d0d0d0" d="M460,790 L540,740 L600,690 L650,640 L700,740 L720,820 L580,900 L510,950 L505,900 Z"/>
<path class="l" style="fill:#bfbfbf" d="M540,740 L600,692 L650,645 L690,730 L640,760 L600,790 Z"/>
<path class="ll" style="fill:#e2e2e2" d="M470,800 L540,760 L600,800 L640,770 L700,760 L715,815 L580,892 L515,935 L510,900 Z"/>
<path class="e" style="stroke:#b0b0b0" d="M600,800 L610,880 M640,770 L655,855 M560,830 L570,905"/>
<circle cx="548" cy="730" r="13" fill="#cfcfcf" stroke="#8a8a8a" stroke-width="4"/><circle cx="640" cy="742" r="10" fill="#cfcfcf" stroke="#8a8a8a" stroke-width="4"/>
<!-- lower box rail -->
<path class="p" style="fill:#c2c2c2" d="M165,940 L230,885 L420,765 L460,790 L505,900 L510,950 L260,1080 L240,1050 L180,1010 Z"/>
<path class="l" style="fill:#cbcbcb" d="M190,1005 L250,1035 L500,905 L460,800 L420,775 L240,890 L175,942 Z" />
<path class="d" style="fill:#b2b2b2" d="M182,1010 L250,1040 L504,908 L508,948 L260,1076 L240,1048 Z"/>
<path class="e" d="M180,1010 L250,1040 L505,906"/>
<circle cx="428" cy="908" r="10" fill="#c8c8c8" stroke="#8a8a8a" stroke-width="4"/>
</g>
<!-- 19.svg -->
<g transform="translate(750,790) scale(0.277778)">
<path class="p" style="fill:#a6a6a6" d="M310,640 L325,590 L375,585 L540,475 L860,310 L983,222 L985,131 L1001,124 L1040,126 L1076,153 L1089,155 L1134,207 L1136,346 L1116,369 L1089,351 L1080,330 L1053,337 L999,346 L954,355 L918,364 L878,371 L560,545 L360,670 Z"/>
<path class="l" style="fill:#b9b9b9" d="M328,594 L375,589 L540,479 L860,314 L985,226 L1075,161 L1084,194 L870,334 L560,504 L372,624 Z"/>
<path class="d" style="fill:#9e9e9e" d="M372,626 L560,507 L870,337 L1084,198 L1078,240 L896,342 L878,369 L560,543 L362,666 Z"/>
<path class="d" style="fill:#a7a7a7" d="M878,369 L896,342 L1076,241 L1102,261 L1102,306 L1080,328 L1053,337 L999,346 L954,355 L918,364 Z"/>
<path class="l" style="fill:#acacac" d="M985,222 L987,134 L1001,127 L1040,129 L1074,154 Z"/>
<path class="l" style="fill:#b6b6b6" d="M1078,155 L1089,158 L1131,208 L1133,344 L1116,365 L1091,349 L1082,330 L1102,306 L1102,261 L1080,238 L1085,190 Z"/>
<ellipse cx="1094" cy="284" rx="9" ry="20" fill="#cdcdcd"/>
<path class="ed" style="stroke:#747474" d="M372,624 L560,504 L870,334 L1084,196 M896,342 L1076,241"/>
<path class="e" d="M372,622 L362,666 M540,478 L560,505 L560,543 M1076,155 L1085,190 L1080,238"/>
<path class="d" style="fill:#969696" d="M312,638 L326,594 L372,624 L362,666 Z"/>
<g class="k"><circle cx="1000" cy="150" r="7"/><circle cx="1030" cy="165" r="6"/><circle cx="1112" cy="222" r="7"/><circle cx="1118" cy="345" r="7"/></g>
</g>
<!-- 20.svg -->
<g transform="translate(750,790) scale(0.277778)">
<path class="p" style="fill:#a7a7a7" d="M20,660 Q22,635 35,620 Q55,595 80,580 L140,550 L560,295 L585,285 L660,242 L668,258 L600,300 L575,310 L150,575 L90,610 Q60,635 40,670 Z"/>
<path class="e" style="stroke:#c2c2c2" d="M40,640 Q70,600 140,562 L570,302"/>
<path class="ed" style="stroke:#7c7c7c" d="M150,575 L575,310 L600,300 L668,258"/>
</g>
<!-- 21.svg -->
<g transform="translate(470,630) scale(0.333333)">
<path class="p" style="fill:#b3b3b3;stroke:#858585" d="M30,370 L75,345 L70,330 L575,35 L820,180 L1319,461 L1300,486 L1175,530 L1075,617 L925,690 L750,772 L735,775 L700,745 L540,715 L400,620 L250,530 L100,440 L50,395 Z"/>
<path class="d" style="fill:#a9a9a9" d="M35,372 L80,350 L572,45 L590,55 L100,360 L70,390 Z"/>
<polyline class="e" points="80,350 100,362 590,58" style="stroke:#8e8e8e"/>
<polyline class="e" points="100,362 70,392 120,440 260,520 410,610 545,705 700,735"/>
<path class="l" style="fill:#c6c6c6" d="M750,770 L925,688 L1075,615 L1175,528 L1296,486 L1290,470 L1165,508 L1060,592 L915,664 L742,746 L700,742 Z"/>
<path class="e" style="stroke:#8a8a8a" d="M742,746 L915,664 L1060,592 L1165,508 L1290,470"/>
<!-- well shading -->
<path class="l" style="fill:#bababa" d="M250,330 Q420,200 700,215 Q900,260 1040,400 Q1060,560 900,640 Q700,720 520,690 Q300,620 250,480 Z"/>
<path class="e" style="stroke:#9a9a9a" d="M250,500 Q230,380 420,240"/>
<path class="e" style="stroke:#9a9a9a" d="M440,610 Q560,560 620,500"/>
<path class="e" style="stroke:#9a9a9a" d="M640,690 Q900,660 1040,500"/>
<!-- center channel -->
<path class="d" style="fill:#a6a6a6" d="M535,350 L640,330 L830,425 L860,480 L800,515 L720,490 L540,400 Z"/>
<path class="e" d="M410,275 L530,345 M535,350 L640,330 L830,425 L860,480 L800,515"/>
<!-- light ribs -->
<g fill="none" stroke="#dedede" stroke-width="19" stroke-linecap="round" style="vector-effect:none">
<path d="M395,198 L630,318"/>
<path d="M490,238 Q640,192 775,216" stroke="#d2d2d2" stroke-width="16"/>
<path d="M682,218 L655,305" stroke="#d2d2d2" stroke-width="14"/>
<path d="M175,402 L330,440 L500,450" stroke="#d0d0d0" stroke-width="14"/>
<path d="M200,380 L390,255" stroke="#c6c6c6" stroke-width="13"/>
<path d="M345,332 L445,382" stroke="#cccccc" stroke-width="13"/>
<path d="M335,540 L570,490" stroke="#d0d0d0" stroke-width="16"/>
<path d="M435,600 L555,545" stroke="#c8c8c8" stroke-width="13"/>
<path d="M622,505 L626,690" stroke="#c8c8c8" stroke-width="13"/>
<path d="M845,402 L1015,414" stroke="#d6d6d6" stroke-width="16"/>
<path d="M860,472 L1045,568" stroke="#d0d0d0" stroke-width="17"/>
<path d="M745,568 L825,600" stroke="#cccccc" stroke-width="13"/>
<path d="M790,738 L935,655" stroke="#c8c8c8" stroke-width="13"/>
<path d="M700,320 L760,335" stroke="#d0d0d0" stroke-width="14"/>
</g>
<path d="M105,400 L165,390 L175,415 L120,425 Z" fill="#ececec"/>
<path d="M500,338 L565,320 L575,335 L510,352 Z" fill="#ececec"/>
<path d="M605,312 L650,308 L652,326 L610,328 Z" fill="#e4e4e4"/>
<path d="M250,512 L270,520 L262,532 L245,524 Z" fill="#dcdcdc"/>
<!-- center bracket -->
<path class="p" style="fill:#a9a9a9;stroke:#777" d="M540,435 L620,395 L730,460 L650,505 Z"/>
<path d="M650,480 L715,452 L725,462 L655,498 Z" fill="#d4d4d4"/>
<path class="ed" d="M585,420 L620,405 M660,465 L695,450" style="stroke:#555;stroke-width:2"/>
<!-- top-left raised -->
<path class="e" style="stroke:#c8c8c8;stroke-width:2" d="M490,110 L545,150 L600,135 L640,110"/>
<!-- right side panel lines -->
<path class="e" style="stroke:#9c9c9c" d="M820,185 L800,300 L860,360 L1000,330 L1150,410"/>
<path class="e" style="stroke:#9c9c9c" d="M1140,470 L1200,500"/>
<ellipse class="w" cx="568" cy="100" rx="9" ry="8" style="fill:#d8d8d8"/>
<ellipse class="w" cx="672" cy="143" rx="14" ry="11"/>
<ellipse class="w" cx="940" cy="297" rx="16" ry="11"/>
<ellipse class="w" cx="1137" cy="410" rx="13" ry="9"/>
<ellipse class="w" cx="1080" cy="402" rx="7" ry="6"/>
<ellipse class="w" cx="1215" cy="470" rx="8" ry="6" style="fill:#ddd"/>
<g class="k"><circle cx="545" cy="130" r="5"/><circle cx="697" cy="178" r="6"/><circle cx="322" cy="452" r="5"/><circle cx="625" cy="628" r="5"/><circle cx="1150" cy="440" r="5"/></g>
</g>
<!-- 22.svg -->
<g transform="translate(96,750) scale(0.0902778)">
<path class="p" style="fill:#adadad;stroke:#8b8b8b" d="M105,520 L280,400 L290,130 L340,135 L450,210 L490,195 L600,230 L630,290 L680,310 L690,400 L660,480 L640,525 L790,530 L900,580 L1000,660 L1020,740 L990,790 L720,950 L690,880 L610,820 L110,540 Z"/>
<path class="l" style="fill:#b9b9b9" d="M300,150 L340,150 L450,225 L470,400 L350,420 L300,400 Z"/>
<path class="l" style="fill:#c4c4c4" d="M460,230 L600,245 L660,320 L670,400 L640,480 L520,470 L470,400 Z"/>
<ellipse cx="515" cy="375" rx="35" ry="45" fill="#dcdcdc"/>
<path class="l" style="fill:#b6b6b6" d="M700,885 L980,720 L1005,745 L985,785 L725,940 Z"/>
<path d="M800,820 L850,790 L860,830 L815,855 Z" fill="#dedede"/>
<path class="e" d="M280,400 L620,560 L790,530 M640,525 L900,600 L985,700"/>
<path class="e" style="stroke:#9a9a9a" d="M610,820 L900,650"/>
</g>
</g>
<g filter="url(#soft2)">
<rect x="1083.4" y="339.3" width="5.2" height="1246.5" fill="#0a0a0a"/>
<rect x="1088" y="364.9" width="2.7" height="3.6" rx="1" fill="#0a0a0a"/>
<rect x="1088" y="428.2" width="2.7" height="3.6" rx="1" fill="#0a0a0a"/>
<rect x="1088" y="534.5" width="2.7" height="3.6" rx="1" fill="#0a0a0a"/>
<rect x="1088" y="636.2" width="2.7" height="3.6" rx="1" fill="#0a0a0a"/>
<rect x="1088" y="740.5" width="2.7" height="3.6" rx="1" fill="#0a0a0a"/>
<rect x="1088" y="844.2" width="2.7" height="3.6" rx="1" fill="#0a0a0a"/>
<rect x="1088" y="948.2" width="2.7" height="3.6" rx="1" fill="#0a0a0a"/>
<rect x="1088" y="1052.2" width="2.7" height="3.6" rx="1" fill="#0a0a0a"/>
<rect x="1088" y="1156.2" width="2.7" height="3.6" rx="1" fill="#0a0a0a"/>
<rect x="1088" y="1260.2" width="2.7" height="3.6" rx="1" fill="#0a0a0a"/>
<rect x="1088" y="1364.2" width="2.7" height="3.6" rx="1" fill="#0a0a0a"/>
<rect x="1088" y="1468.2" width="2.7" height="3.6" rx="1" fill="#0a0a0a"/>
<rect x="1088" y="1570.2" width="2.7" height="3.6" rx="1" fill="#0a0a0a"/>
<line class="ld" x1="371.7" y1="368.0" x2="436.7" y2="385.0"/>
<line class="ld" x1="363.0" y1="513.0" x2="410.0" y2="479.0"/>
<line class="ld" x1="443.0" y1="557.0" x2="485.0" y2="592.0"/>
<line class="ld" x1="680.0" y1="387.5" x2="741.0" y2="373.8"/>
<line class="ld" x1="828.8" y1="471.2" x2="793.8" y2="526.2"/>
<line class="ld" x1="981.7" y1="491.0" x2="950.3" y2="532.5"/>
<line class="ld" x1="325.6" y1="628.3" x2="365.7" y2="679.3"/>
<line class="ld" x1="314.0" y1="768.6" x2="360.3" y2="821.5"/>
<line class="ld" x1="460.5" y1="659.3" x2="522.5" y2="712.0"/>
<line class="ld" x1="559.0" y1="650.0" x2="590.0" y2="622.8"/>
<line class="ld" x1="168.9" y1="721.0" x2="150.0" y2="767.8"/>
<line class="ld" x1="225.0" y1="817.0" x2="236.0" y2="880.3"/>
<line class="ld" x1="211.0" y1="1128.8" x2="256.6" y2="1063.0"/>
<line class="ld" x1="642.3" y1="1013.5" x2="614.0" y2="1049.0"/>
<line class="ld" x1="525.0" y1="1232.0" x2="561.0" y2="1192.7"/>
<line class="ld" x1="589.4" y1="1276.8" x2="627.5" y2="1226.3"/>
<line class="ld" x1="354.3" y1="1388.0" x2="396.4" y2="1333.7"/>
<line class="ld" x1="663.6" y1="1389.6" x2="641.3" y2="1437.6"/>
<line class="ld" x1="729.5" y1="910.0" x2="790.0" y2="907.3"/>
<line class="ld" x1="987.0" y1="900.4" x2="1020.7" y2="940.6"/>
<line class="ld" x1="792.6" y1="951.8" x2="864.9" y2="1020.9"/>
<line class="ld" x1="964.6" y1="1384.0" x2="999.3" y2="1429.7"/>
<text class="t" transform="translate(349.00,373.10) scale(1.199,1)">5</text>
<text class="t" transform="translate(342.00,528.70) scale(1.199,1)">6</text>
<text class="t" transform="translate(428.00,555.40) scale(1.199,1)">7</text>
<text class="t" transform="translate(750.70,379.20) scale(1.199,1)">14</text>
<text class="t" transform="translate(823.20,464.00) scale(1.199,1)">1</text>
<text class="t" transform="translate(979.80,484.40) scale(1.199,1)">16</text>
<text class="t" transform="translate(288.20,623.90) scale(1.199,1)">15</text>
<text class="t" transform="translate(433.00,651.40) scale(1.199,1)">21</text>
<text class="t" transform="translate(520.20,674.20) scale(1.199,1)">11</text>
<text class="t" transform="translate(298.40,759.20) scale(1.199,1)">2</text>
<text class="t" transform="translate(155.00,711.00) scale(1.199,1)">22</text>
<text class="t" transform="translate(216.00,808.10) scale(1.199,1)">3</text>
<text class="t" transform="translate(189.00,1151.40) scale(1.199,1)">4</text>
<text class="t" transform="translate(639.00,1008.00) scale(1.199,1)">8</text>
<text class="t" transform="translate(508.00,1256.40) scale(1.199,1)">9</text>
<text class="t" transform="translate(553.20,1304.90) scale(1.199,1)">13</text>
<text class="t" transform="translate(315.90,1414.20) scale(1.199,1)">10</text>
<text class="t" transform="translate(689.20,918.10) scale(1.199,1)">12</text>
<text class="t" transform="translate(1017.90,966.70) scale(1.199,1)">19</text>
<text class="t" transform="translate(869.00,1048.60) scale(1.199,1)">20</text>
<text class="t" transform="translate(997.20,1459.40) scale(1.199,1)">17</text>
<text class="t" transform="translate(608.00,1477.80) scale(1.199,1)">18</text>
<text class="f" transform="translate(53.20,1570.20) scale(1.1695,1)">01/2026</text>
<text class="f" transform="translate(961.50,1570.00) scale(1.1695,1)">00137196</text>
<g fill="#ed0b1d" stroke="none"><path d="M875.0,295.6 L876.5,305.8 L879.4,320.7 L882.5,338.8 L885.7,357.7 L890.0,384.8 L894.7,409.8 L901.6,450.8 L908.9,491.8 L917.9,490.2 L910.4,449.2 L903.5,408.2 L899.0,383.2 L895.1,356.3 L892.1,337.2 L889.8,319.3 L888.7,304.2 L887.6,294.0 Z"/><circle cx="881.3" cy="294.8" r="6.4"/></g>
<g fill="none" stroke="#ed0b1d" stroke-linecap="round" stroke-linejoin="round">
<path d="M841.6,452 L912,493.2" stroke-width="11.8"/>
<path d="M956.6,421.8 L919.5,488" stroke-width="10.2"/>
<path d="M912,489.5 L915.5,491.5" stroke-width="13"/>
</g>
</g>
</svg>
</body></html>
